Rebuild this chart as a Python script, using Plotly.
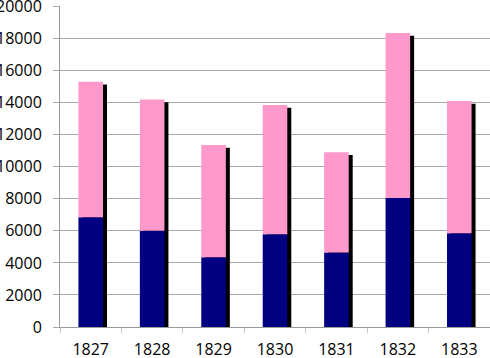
import plotly.graph_objects as go

years = ["1827", "1828", "1829", "1830", "1831", "1832", "1833"]
navy_vals = [6850, 6000, 4350, 5780, 4650, 8050, 5850]
pink_vals = [8450, 8200, 7000, 8070, 6250, 10300, 8250]
y_ticks = [0, 2000, 4000, 6000, 8000, 10000, 12000, 14000, 16000, 18000, 20000]

totals = [a + b for a, b in zip(navy_vals, pink_vals)]
shadow_drop = 170  # visual drop of the shadow top, in data units
shadow_vals = [t - shadow_drop for t in totals]

W = 0.4
fig = go.Figure()
fig.add_trace(go.Bar(x=years, y=shadow_vals, base=0, width=W, offset=-W / 2 + 0.065,
                     marker=dict(color="#000000", line=dict(width=0)), hoverinfo="skip"))
fig.add_trace(go.Bar(x=years, y=navy_vals, base=0, width=W, offset=-W / 2,
                     marker=dict(color="#000080", line=dict(width=0))))
fig.add_trace(go.Bar(x=years, y=pink_vals, base=navy_vals, width=W, offset=-W / 2,
                     marker=dict(color="#FF99CC", line=dict(width=0))))

fig.update_layout(
    width=490, height=358,
    margin=dict(l=60, r=0, t=6, b=31, autoexpand=False),
    barmode="overlay",
    showlegend=False,
    paper_bgcolor="white", plot_bgcolor="white",
    font=dict(family="Open Sans", size=16, color="#000000"),
)
fig.update_xaxes(
    type="category", showline=True, linecolor="#9a9a9a", linewidth=1,
    ticks="outside", tickson="boundaries", ticklen=5, tickcolor="#c8c8c8",
    showgrid=False, ticklabelstandoff=8, automargin=False,
    ticklabeloverflow="allow",
)
fig.update_yaxes(
    range=[0, 20030], tickvals=y_ticks, ticktext=[str(v) for v in y_ticks],
    showline=True, linecolor="#9a9a9a", linewidth=1,
    showgrid=True, gridcolor="#a8a8a8", gridwidth=1,
    ticks="outside", ticklen=6, tickcolor="#a8a8a8", ticklabelstandoff=8,
    zeroline=False, automargin=False, ticklabeloverflow="allow",
)
fig.write_html(
    "out.html",
    config={"displayModeBar": False},
    post_script="document.body.style.margin='0';document.body.style.padding='0';document.body.style.overflow='hidden';",
)
